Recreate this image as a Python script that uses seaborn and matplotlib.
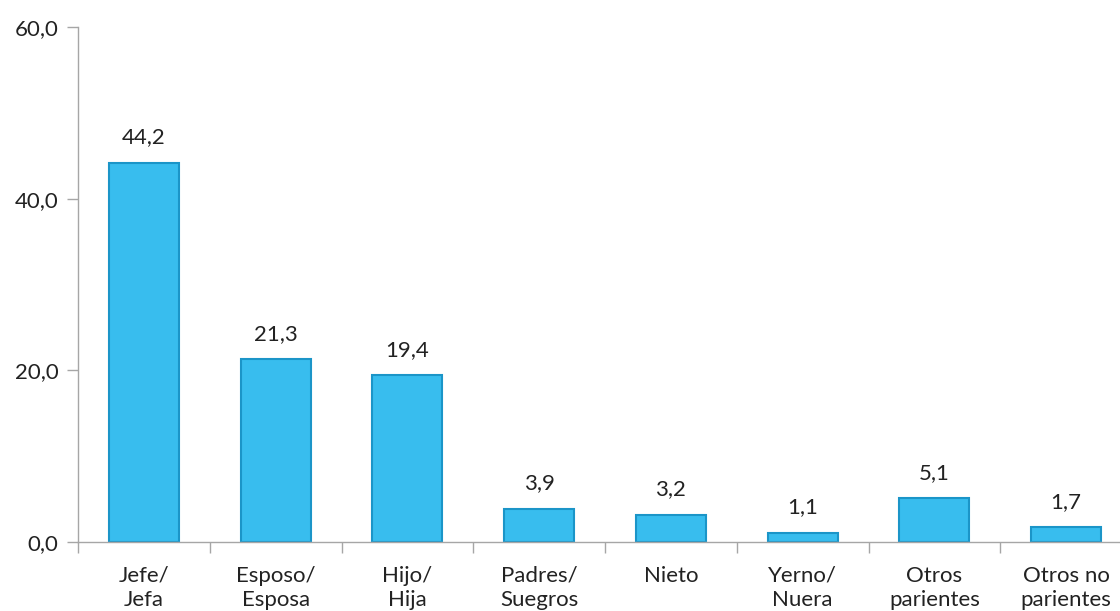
import matplotlib
matplotlib.use("Agg")
import matplotlib.pyplot as plt
import matplotlib.ticker as mticker
import pandas as pd
import seaborn as sns

# datos
categorias = ['Jefe/\nJefa', 'Esposo/\nEsposa', 'Hijo/\nHija', 'Padres/\nSuegros',
              'Nieto', 'Yerno/\nNuera', 'Otros\nparientes', 'Otros no\nparientes']
valores = [44.2, 21.3, 19.4, 3.9, 3.2, 1.1, 5.1, 1.7]
ticks_y = [0, 20, 40, 60]

df = pd.DataFrame({'cat': categorias, 'val': valores})

sns.set_style('white')
plt.rcParams['font.family'] = ['Lato', 'DejaVu Sans']

fig = plt.figure(figsize=(11.2, 6.11), dpi=100)
ax = fig.add_axes([78 / 1120, 1 - 542 / 611, 1054 / 1120, 515 / 611])

sns.barplot(data=df, x='cat', y='val', color='#38BDEE', width=0.53,
            edgecolor='#1B95C8', linewidth=1.5, saturation=1, ax=ax)

# etiquetas de valores
for i, v in enumerate(valores):
    ax.annotate(f'{v:.1f}'.replace('.', ','), (i, v), xytext=(0, 11),
                textcoords='offset points', ha='center', va='bottom',
                fontsize=16, color='#222222')

ax.set_xlim(-0.5, len(categorias) - 0.5)
ax.set_ylim(0, 60)
ax.set_yticks(ticks_y)
ax.yaxis.set_major_formatter(mticker.FuncFormatter(lambda y, p: f'{y:.1f}'.replace('.', ',')))
ax.set_xlabel('')
ax.set_ylabel('')

# ticks entre categorias
ax.set_xticks([i + 0.5 for i in range(-1, len(categorias))], minor=True)
ax.tick_params(axis='x', which='major', length=0, pad=17, labelsize=16, labelcolor='#222222')
ax.tick_params(axis='x', which='minor', length=8, color='#A6A6A6', width=1, direction='out', bottom=True)
ax.tick_params(axis='y', length=8, color='#A6A6A6', width=1, labelsize=16, labelcolor='#222222', pad=6, left=True)
for lbl in ax.get_xticklabels():
    lbl.set_linespacing(1.3)

for s in ['top', 'right']:
    ax.spines[s].set_visible(False)
for s in ['left', 'bottom']:
    ax.spines[s].set_color('#A6A6A6')
    ax.spines[s].set_linewidth(1)

fig.savefig('out.png', dpi=100)
